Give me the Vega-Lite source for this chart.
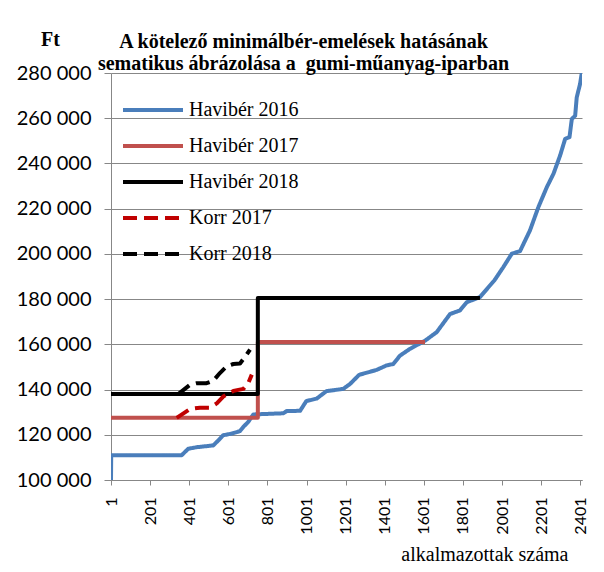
{
  "$schema": "https://vega.github.io/schema/vega-lite/v6.json",
  "width": 471,
  "height": 407,
  "autosize": {"type": "none"},
  "padding": {"left": 111, "top": 73, "right": 22, "bottom": 92},
  "background": "white",
  "title": {
    "text": ["A kötelező minimálbér-emelések hatásának", "sematikus ábrázolása a\u00a0 gumi-műanyag-iparban"],
    "font": "Liberation Serif",
    "fontSize": 20,
    "fontWeight": "bold",
    "color": "black",
    "anchor": "middle",
    "dx": -43,
    "dy": 50,
    "offset": 5,
    "lineHeight": 22
  },
  "data": {
    "values": [
      {"series": "Havibér 2016", "k": 1, "n": 1, "ft": 100000},
      {"series": "Havibér 2016", "k": 2, "n": 2, "ft": 111000},
      {"series": "Havibér 2016", "k": 3, "n": 363, "ft": 111000},
      {"series": "Havibér 2016", "k": 4, "n": 396, "ft": 113800},
      {"series": "Havibér 2016", "k": 5, "n": 439, "ft": 114500},
      {"series": "Havibér 2016", "k": 6, "n": 524, "ft": 115300},
      {"series": "Havibér 2016", "k": 7, "n": 550, "ft": 117500},
      {"series": "Havibér 2016", "k": 8, "n": 575, "ft": 119800},
      {"series": "Havibér 2016", "k": 9, "n": 618, "ft": 120500},
      {"series": "Havibér 2016", "k": 10, "n": 660, "ft": 121600},
      {"series": "Havibér 2016", "k": 11, "n": 678, "ft": 123500},
      {"series": "Havibér 2016", "k": 12, "n": 703, "ft": 125700},
      {"series": "Havibér 2016", "k": 13, "n": 729, "ft": 129000},
      {"series": "Havibér 2016", "k": 14, "n": 882, "ft": 129500},
      {"series": "Havibér 2016", "k": 15, "n": 900, "ft": 130500},
      {"series": "Havibér 2016", "k": 16, "n": 968, "ft": 130600},
      {"series": "Havibér 2016", "k": 17, "n": 1000, "ft": 134900},
      {"series": "Havibér 2016", "k": 18, "n": 1053, "ft": 136000},
      {"series": "Havibér 2016", "k": 19, "n": 1103, "ft": 139300},
      {"series": "Havibér 2016", "k": 20, "n": 1189, "ft": 140300},
      {"series": "Havibér 2016", "k": 21, "n": 1224, "ft": 142500},
      {"series": "Havibér 2016", "k": 22, "n": 1270, "ft": 146500},
      {"series": "Havibér 2016", "k": 23, "n": 1360, "ft": 148700},
      {"series": "Havibér 2016", "k": 24, "n": 1411, "ft": 150700},
      {"series": "Havibér 2016", "k": 25, "n": 1445, "ft": 151300},
      {"series": "Havibér 2016", "k": 26, "n": 1479, "ft": 155000},
      {"series": "Havibér 2016", "k": 27, "n": 1530, "ft": 158000},
      {"series": "Havibér 2016", "k": 28, "n": 1607, "ft": 161600},
      {"series": "Havibér 2016", "k": 29, "n": 1667, "ft": 165400},
      {"series": "Havibér 2016", "k": 30, "n": 1735, "ft": 173400},
      {"series": "Havibér 2016", "k": 31, "n": 1786, "ft": 175000},
      {"series": "Havibér 2016", "k": 32, "n": 1820, "ft": 178600},
      {"series": "Havibér 2016", "k": 33, "n": 1888, "ft": 180900},
      {"series": "Havibér 2016", "k": 34, "n": 1962, "ft": 188300},
      {"series": "Havibér 2016", "k": 35, "n": 2008, "ft": 194200},
      {"series": "Havibér 2016", "k": 36, "n": 2051, "ft": 200100},
      {"series": "Havibér 2016", "k": 37, "n": 2093, "ft": 201200},
      {"series": "Havibér 2016", "k": 38, "n": 2144, "ft": 210400},
      {"series": "Havibér 2016", "k": 39, "n": 2187, "ft": 220700},
      {"series": "Havibér 2016", "k": 40, "n": 2230, "ft": 229500},
      {"series": "Havibér 2016", "k": 41, "n": 2264, "ft": 235400},
      {"series": "Havibér 2016", "k": 42, "n": 2298, "ft": 243500},
      {"series": "Havibér 2016", "k": 43, "n": 2324, "ft": 250900},
      {"series": "Havibér 2016", "k": 44, "n": 2346, "ft": 251600},
      {"series": "Havibér 2016", "k": 45, "n": 2358, "ft": 259700},
      {"series": "Havibér 2016", "k": 46, "n": 2375, "ft": 261100},
      {"series": "Havibér 2016", "k": 47, "n": 2383, "ft": 269200},
      {"series": "Havibér 2016", "k": 48, "n": 2400, "ft": 275100},
      {"series": "Havibér 2016", "k": 49, "n": 2409, "ft": 280000},
      {"series": "Havibér 2017", "k": 1, "n": 1, "ft": 127500},
      {"series": "Havibér 2017", "k": 2, "n": 752, "ft": 127500},
      {"series": "Havibér 2017", "k": 3, "n": 752, "ft": 161000},
      {"series": "Havibér 2017", "k": 4, "n": 1607, "ft": 161000},
      {"series": "Havibér 2018", "k": 1, "n": 1, "ft": 138000},
      {"series": "Havibér 2018", "k": 2, "n": 752, "ft": 138000},
      {"series": "Havibér 2018", "k": 3, "n": 752, "ft": 180500},
      {"series": "Havibér 2018", "k": 4, "n": 1888, "ft": 180500},
      {"series": "Korr 2017", "k": 1, "n": 337, "ft": 127500},
      {"series": "Korr 2017", "k": 2, "n": 405, "ft": 131400},
      {"series": "Korr 2017", "k": 3, "n": 456, "ft": 132000},
      {"series": "Korr 2017", "k": 4, "n": 507, "ft": 132000},
      {"series": "Korr 2017", "k": 5, "n": 542, "ft": 133900},
      {"series": "Korr 2017", "k": 6, "n": 575, "ft": 136900},
      {"series": "Korr 2017", "k": 7, "n": 627, "ft": 139400},
      {"series": "Korr 2017", "k": 8, "n": 678, "ft": 140300},
      {"series": "Korr 2017", "k": 9, "n": 703, "ft": 142800},
      {"series": "Korr 2017", "k": 10, "n": 721, "ft": 146600},
      {"series": "Korr 2018", "k": 1, "n": 345, "ft": 138000},
      {"series": "Korr 2018", "k": 2, "n": 405, "ft": 142100},
      {"series": "Korr 2018", "k": 3, "n": 439, "ft": 142800},
      {"series": "Korr 2018", "k": 4, "n": 490, "ft": 142800},
      {"series": "Korr 2018", "k": 5, "n": 524, "ft": 143900},
      {"series": "Korr 2018", "k": 6, "n": 558, "ft": 147300},
      {"series": "Korr 2018", "k": 7, "n": 593, "ft": 150300},
      {"series": "Korr 2018", "k": 8, "n": 627, "ft": 151300},
      {"series": "Korr 2018", "k": 9, "n": 661, "ft": 151500},
      {"series": "Korr 2018", "k": 10, "n": 695, "ft": 155500},
      {"series": "Korr 2018", "k": 11, "n": 712, "ft": 157700}
    ]
  },
  "mark": {"type": "line", "strokeWidth": 4, "strokeJoin": "round", "clip": true},
  "encoding": {
    "x": {
      "field": "n",
      "type": "quantitative",
      "scale": {"domain": [1, 2410], "nice": false, "zero": false},
      "axis": {
        "values": [1, 201, 401, 601, 801, 1001, 1201, 1401, 1601, 1801, 2001, 2201, 2401],
        "format": "d",
        "labelAngle": -90,
        "labelFont": "Lato",
        "labelFontSize": 16,
        "labelColor": "black",
        "labelPadding": 12,
        "labelOverlap": false,
        "labelFlush": false,
        "tickSize": 5,
        "tickColor": "#878787",
        "domainColor": "#878787",
        "grid": false,
        "title": "alkalmazottak száma",
        "titleFont": "Liberation Serif",
        "titleFontSize": 20,
        "titleFontWeight": "normal",
        "titleColor": "black",
        "titleAlign": "right",
        "titleAnchor": null,
        "titleBaseline": "alphabetic",
        "titleX": 457,
        "titleY": 80
      }
    },
    "y": {
      "field": "ft",
      "type": "quantitative",
      "scale": {"domain": [100000, 280000], "nice": false, "zero": false},
      "axis": {
        "values": [100000, 120000, 140000, 160000, 180000, 200000, 220000, 240000, 260000, 280000],
        "labelExpr": "replace(format(datum.value, ','), ',', ' ')",
        "labelFont": "Lato",
        "labelFontSize": 20,
        "labelColor": "black",
        "labelPadding": 13,
        "labelFlush": false,
        "labelOverlap": false,
        "tickSize": 7,
        "tickColor": "#878787",
        "domainColor": "#878787",
        "grid": true,
        "gridColor": "#878787",
        "gridOpacity": 1,
        "title": "Ft",
        "titleAngle": 0,
        "titleFont": "Liberation Serif",
        "titleFontSize": 20,
        "titleFontWeight": "bold",
        "titleColor": "black",
        "titleAlign": "center",
        "titleBaseline": "alphabetic",
        "titleAnchor": null,
        "titleX": -61,
        "titleY": -28
      }
    },
    "color": {
      "field": "series",
      "type": "nominal",
      "scale": {
        "domain": ["Havibér 2016", "Havibér 2017", "Havibér 2018", "Korr 2017", "Korr 2018"],
        "range": ["#4A7EBB", "#C0504D", "#000000", "#C00000", "#000000"]
      },
      "legend": {"title": null}
    },
    "strokeDash": {
      "field": "series",
      "type": "nominal",
      "scale": {
        "domain": ["Havibér 2016", "Havibér 2017", "Havibér 2018", "Korr 2017", "Korr 2018"],
        "range": [[1, 0], [1, 0], [1, 0], [14, 7], [14, 7]]
      },
      "legend": {"title": null}
    },
    "order": {"field": "k", "type": "quantitative"}
  },
  "config": {
    "view": {"stroke": null},
    "legend": {
      "orient": "none",
      "legendX": 10,
      "legendY": 19,
      "symbolType": "stroke",
      "symbolSize": 3600,
      "symbolStrokeWidth": 4,
      "clipHeight": 36,
      "labelFont": "Liberation Serif",
      "labelFontSize": 20,
      "labelColor": "black",
      "labelOffset": 4,
      "rowPadding": 0,
      "padding": 0
    }
  }
}
